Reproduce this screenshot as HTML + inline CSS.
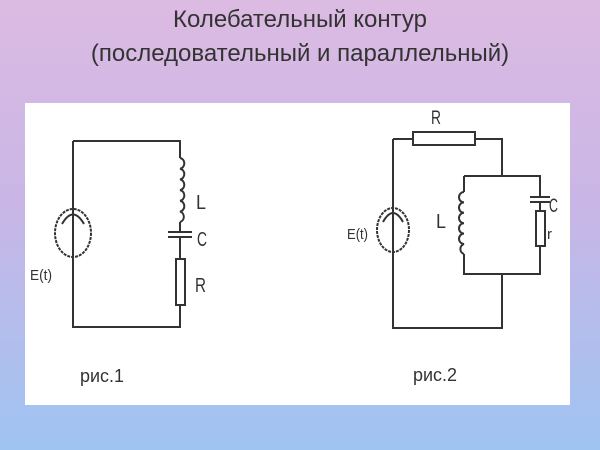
<!DOCTYPE html>
<html><head><meta charset="utf-8"><style>
body{margin:0;width:600px;height:450px;overflow:hidden;background:linear-gradient(#dcbbe2 0%,#c9b6e6 45%,#9fc4f2 100%);font-family:"Liberation Sans",sans-serif}
.t{position:absolute;left:0;width:600px;text-align:center;color:#333;font-size:24px}
</style></head><body>
<div class="t" style="top:6px">Колебательный контур</div>
<div class="t" style="top:40px">(последовательный и параллельный)</div>
<svg width="600" height="450" style="position:absolute;left:0;top:0">
<rect x="25" y="103" width="545" height="302" fill="#fff"/>
<g stroke="#333" stroke-width="2" fill="none">
<path d="M73 141H180V158M180 222V232M180 237V259M180 305V327H73V141"/>
<path d="M180 158a5 5.4 0 0 1 0 10.7a5 5.4 0 0 1 0 10.7a5 5.4 0 0 1 0 10.7a5 5.4 0 0 1 0 10.7a5 5.4 0 0 1 0 10.7a5 5.4 0 0 1 0 10.5"/>
<path d="M168 232H192M168 237H192"/>
<rect x="176" y="259" width="9" height="46"/>
<ellipse cx="73" cy="233" rx="18" ry="24" stroke-dasharray="3 1"/>
<path d="M62 224Q73 205 84 224"/>
<path d="M393 139H413M475 139H502V176M393 139V328H502V274"/>
<rect x="413" y="132" width="62" height="13"/>
<path d="M464 176H540V197M540 202V211M540 246V274H464V254M464 192V176"/>
<path d="M464 192a5 5.2 0 0 0 0 10.4a5 5.2 0 0 0 0 10.4a5 5.2 0 0 0 0 10.4a5 5.2 0 0 0 0 10.4a5 5.2 0 0 0 0 10.4a5 5.2 0 0 0 0 10"/>
<path d="M530 197H550M530 202H550"/>
<rect x="536" y="211" width="9" height="35"/>
<ellipse cx="393" cy="230" rx="16" ry="22" stroke-dasharray="3 1"/>
<path d="M383 222Q393 204 403 222"/>
</g>
<g fill="#333" font-size="17" font-family="Liberation Sans,sans-serif">
<text x="196" y="208" transform="scale(1,1.2)" style="display:none"></text>
<text x="196" y="209" font-size="20" textLength="10" lengthAdjust="spacingAndGlyphs">L</text>
<text x="197" y="246" font-size="20" textLength="10" lengthAdjust="spacingAndGlyphs">C</text>
<text x="195" y="292" font-size="20" textLength="11" lengthAdjust="spacingAndGlyphs">R</text>
<text x="30" y="280" font-size="15" textLength="22" lengthAdjust="spacingAndGlyphs">E(t)</text>
<text x="80" y="382" font-size="18" textLength="44" lengthAdjust="spacingAndGlyphs">рис.1</text>
<text x="431" y="124" font-size="19" textLength="10" lengthAdjust="spacingAndGlyphs">R</text>
<text x="436" y="228" font-size="20" textLength="10" lengthAdjust="spacingAndGlyphs">L</text>
<text x="549" y="212" font-size="19" textLength="9" lengthAdjust="spacingAndGlyphs">C</text>
<text x="547" y="239" font-size="15">r</text>
<text x="347" y="239" font-size="15" textLength="21" lengthAdjust="spacingAndGlyphs">E(t)</text>
<text x="413" y="381" font-size="18" textLength="44" lengthAdjust="spacingAndGlyphs">рис.2</text>
</g>
</svg>
</body></html>
